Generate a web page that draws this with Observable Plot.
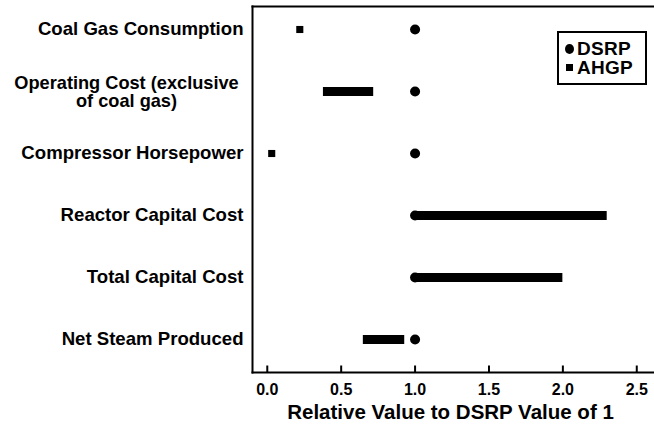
<!DOCTYPE html>
<html>
<head>
<meta charset="utf-8">
<script src="https://cdn.jsdelivr.net/npm/d3@7"></script>
<script src="https://cdn.jsdelivr.net/npm/@observablehq/plot@0.6"></script>
<style>
  html, body { margin: 0; padding: 0; background: #fff; }
  #wrap { position: relative; width: 654px; height: 432px; font-family: "Liberation Sans", Arial, sans-serif; font-weight: bold; }
  #legend { position: absolute; left: 557px; top: 31px; width: 90px; height: 54px; border: 2px solid #000; box-sizing: border-box; background: #fff; }
  .entry { position: absolute; left: 18px; font-size: 19px; line-height: 19px; color: #000; letter-spacing: 0.3px; }
  .sym { position: absolute; background: #000; }
</style>
</head>
<body>
<div id="wrap"></div>
<script>
// ---- data ----
const categories = [
  "Coal Gas Consumption",
  "Operating Cost (exclusive of coal gas)",
  "Compressor Horsepower",
  "Reactor Capital Cost",
  "Total Capital Cost",
  "Net Steam Produced"
];
const dsrp     = [1, 1, 1, 1, 1, 1];
const ahgpLow  = [0.22, 0.38, 0.03, 1.0, 1.0, 0.65];
const ahgpHigh = [0.22, 0.72, 0.03, 2.3, 2.0, 0.93];
const xTicks = [0, 0.5, 1, 1.5, 2, 2.5];
const xTitle = "Relative Value to DSRP Value of 1";
const legendLabels = ["DSRP", "AHGP"];
const operatingLabel = "Operating Cost (exclusive\nof coal gas)";

const rows = categories.map((c, i) => ({cat: c, dsrp: dsrp[i], lo: ahgpLow[i], hi: ahgpHigh[i]}));
const singleLabels = categories.filter((c, i) => i !== 1);

const font = "Liberation Sans, Arial, sans-serif";

// inward tick drawn as a short vertical stroke rising from the axis
const tickSymbol = {draw(context) { context.moveTo(0, 0); context.lineTo(0, -7); }};

const chart = Plot.plot({
  width: 654,
  height: 432,
  marginLeft: 252,
  marginRight: 0,
  marginTop: 6,
  marginBottom: 60,
  style: {fontFamily: font, fontWeight: "bold", fontSize: "16px", background: "#fff", color: "#000", overflow: "visible"},
  x: {domain: [-0.1, 2.62]},
  y: {type: "point", domain: categories, padding: 0, insetTop: 22, insetBottom: 32, axis: null},
  marks: [
    Plot.frame({anchor: "top", stroke: "#000", strokeWidth: 2}),
    Plot.frame({anchor: "left", stroke: "#000", strokeWidth: 2}),
    Plot.frame({anchor: "bottom", stroke: "#000", strokeWidth: 2}),
    Plot.axisX({ticks: xTicks, tickSize: 0, tickPadding: 11, tickFormat: d3.format(".1f"), label: null, fontSize: 16, fontWeight: "bold"}),
    Plot.text([xTitle], {frameAnchor: "bottom", dx: -3, dy: 46, fontSize: 20.5, fontWeight: "bold", fill: "#000"}),
    Plot.text(singleLabels, {y: d => d, frameAnchor: "left", textAnchor: "end", dx: -9, fontSize: 18.6, fontWeight: "bold", fill: "#000"}),
    Plot.text([categories[1]], {y: d => d, frameAnchor: "left", textAnchor: "middle", dx: -126, dy: 1, text: () => operatingLabel, lineHeight: 1.0, fontSize: 18.2, fontWeight: "bold", fill: "#000"}),
    Plot.dot(rows, {x: "dsrp", y: "cat", r: 5, fill: "#000", stroke: null}),
    Plot.ruleY(rows.filter(d => d.hi > d.lo), {y: "cat", x1: "lo", x2: "hi", stroke: "#000", strokeWidth: 9}),
    Plot.dot(rows.filter(d => d.hi === d.lo), {x: "lo", y: "cat", symbol: "square", r: 4, fill: "#000", stroke: null}),
    Plot.dot(xTicks, {x: d => d, frameAnchor: "bottom", symbol: tickSymbol, r: 4, fill: "none", stroke: "#000", strokeWidth: 2})
  ]
});

const wrap = document.getElementById("wrap");
wrap.appendChild(chart);

// legend
const legend = document.createElement("div");
legend.id = "legend";
legendLabels.forEach((lab, i) => {
  const e = document.createElement("div");
  e.className = "entry";
  e.style.top = (6 + i * 19) + "px";
  e.textContent = lab;
  legend.appendChild(e);
  const s = document.createElement("div");
  s.className = "sym";
  if (i === 0) {
    s.style.width = "9px"; s.style.height = "10px"; s.style.borderRadius = "50%";
    s.style.left = "6px"; s.style.top = (11 + i * 19) + "px";
  } else {
    s.style.width = "7px"; s.style.height = "7px";
    s.style.left = "7px"; s.style.top = (12 + i * 19) + "px";
  }
  legend.appendChild(s);
});
wrap.appendChild(legend);
</script>
</body>
</html>
